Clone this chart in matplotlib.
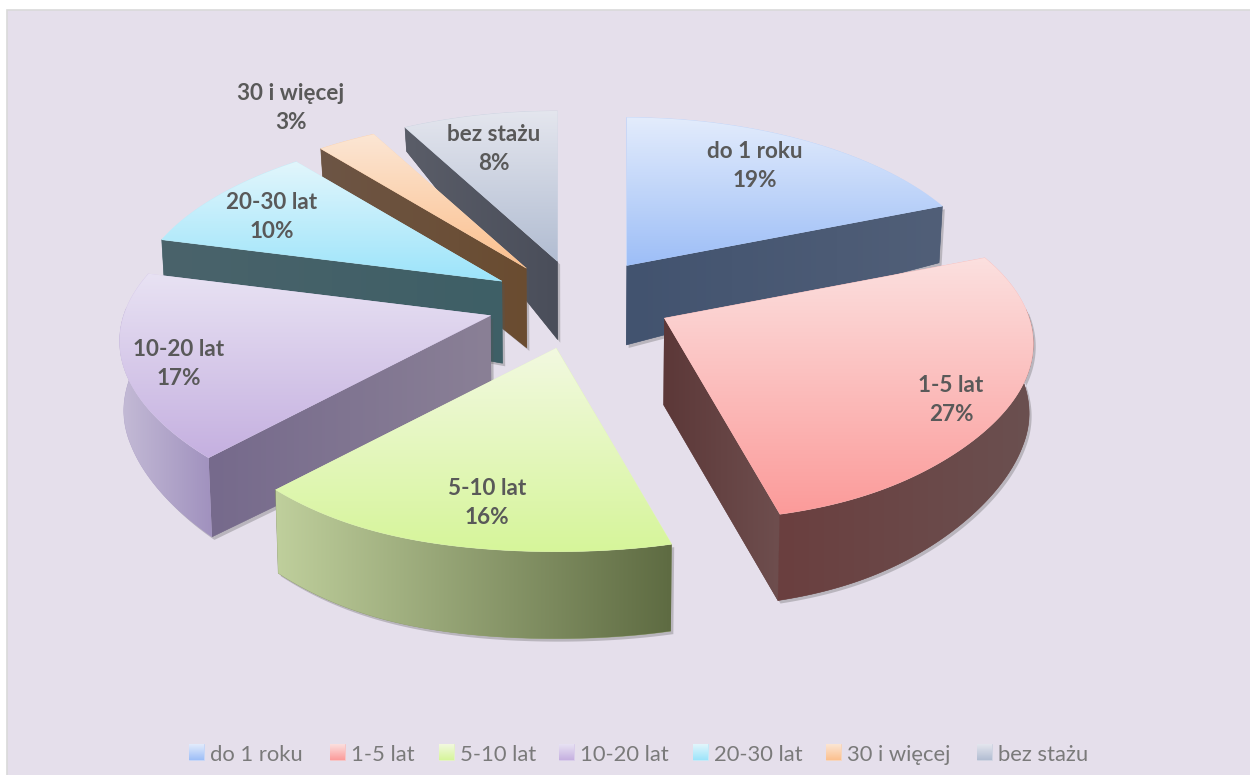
import numpy as np
import matplotlib
matplotlib.use("Agg")
import matplotlib.pyplot as plt
from matplotlib.colors import to_rgb
from matplotlib.path import Path
from matplotlib.patches import PathPatch, Rectangle

categories = ["do 1 roku", "1-5 lat", "5-10 lat", "10-20 lat", "20-30 lat", "30 i więcej", "bez stażu"]
values = [19, 27, 16, 17, 10, 3, 8]

# styling: (top of top-face, bottom of top-face), (wall left, wall right), (outer left, outer right)
TOP_COLORS = [("#E3ECFC", "#9DBEF7"), ("#FCE0DF", "#FB9B9A"), ("#F2F9E0", "#D6F59A"),
              ("#E8E2F3", "#C5B0E0"), ("#E2F6FC", "#9CE4FA"), ("#FCE6D4", "#FBC08E"), ("#E4E6EE", "#B2BDD2")]
WALL_COLORS = [("#42536F", "#515F78"), ("#5C3838", "#6E4E4E"), ("#BCCD93", "#5D6B42"),
               ("#766A8C", "#8A8096"), ("#4A636B", "#3E5F66"), ("#6D5545", "#6A4C30"), ("#5A5D68", "#4A4E5A")]
OUTER_COLORS = [("#4B5C76", "#4B5C76"), ("#6B3F3F", "#6A5050"), ("#BFCF9C", "#5E6B42"),
                ("#C4BBD6", "#A091BE"), ("#3E636A", "#3E636A"), ("#7A5234", "#7A5234"), ("#4E5362", "#4E5362")]
LABEL_XY = [(755, 166), (951, 400), (487, 503), (179, 364), (272, 217), (291, 108), (494, 149)]
LEGEND_X = [189, 330, 439, 559, 693, 826, 977]
DRAW_ORDER = [6, 5, 4, 0, 3, 1, 2]
CX, CY, EA, EB = 577, 303, 90, 44.5
SLICE_SHIFT = [(-1, -0.5), (7, -5), (1.5, 2), (0, 0), (1, 2), (0, 2), (3, 1.5)]
SLICE_SCALE = [0.985, 1.0, 1.0, 1.005, 1.0, 1.0, 1.0]

fig = plt.figure(figsize=(12.5, 7.75), dpi=100, facecolor="white")
ax = fig.add_axes([0, 0, 1, 1])
ax.set_xlim(0, 1250)
ax.set_ylim(775, 0)
ax.axis("off")
ax.set_autoscale_on(False)
ax.add_patch(Rectangle((7, 10), 1250, 770, facecolor="#E5DFEB", edgecolor="#D9D9D9", lw=1.2, zorder=0))

z = [1]


def gradient_fill(poly, c0, c1, vertical=True):
    poly = np.asarray(poly)
    x0, y0 = poly.min(axis=0)
    x1, y1 = poly.max(axis=0)
    a, b = np.array(to_rgb(c0)), np.array(to_rgb(c1))
    t = np.linspace(0, 1, 128)[:, None]
    col = a * (1 - t) + b * t
    img = col[:, None, :] if vertical else col[None, :, :]
    z[0] += 1
    ax.add_patch(PathPatch(Path(poly, closed=False), facecolor=(a + b) / 2, edgecolor=(a + b) / 2,
                           lw=0.4, zorder=z[0]))
    z[0] += 1
    im = ax.imshow(img, extent=(x0, max(x1, x0 + 1), max(y1, y0 + 1), y0), origin="upper",
                   aspect="auto", interpolation="bilinear", zorder=z[0])
    im.set_clip_path(Path(poly), ax.transData)


def shadow(poly):
    z[0] += 1
    ax.add_patch(PathPatch(Path(np.asarray(poly) + np.array([2.5, 3.0])), facecolor="#555555",
                           edgecolor="none", alpha=0.3, zorder=z[0]))


def apex_of(bis, i):
    return np.array([CX + EA * np.sin(bis) + SLICE_SHIFT[i][0], CY - EB * np.cos(bis) + SLICE_SHIFT[i][1]])


def rim(theta, bis, i):
    a = apex_of(bis, i)
    X, Y = np.sin(theta), np.cos(theta)
    f = 365 - 55 * Y + 60 * np.minimum(Y, 0) ** 8
    g = 173 * Y / (1 + 0.15 * Y)
    return np.column_stack([a[0] + SLICE_SCALE[i] * f * X, a[1] - SLICE_SCALE[i] * g])


def lower(pts):
    pts = np.atleast_2d(pts)
    t = np.clip((340 - pts[:, 1]) / 212, 0, 1)
    d = 87 - 63 * t ** 2
    d = d * (1 - 0.2 * np.clip(np.abs(pts[:, 0] - CX) / 450, 0, 1) ** 4)
    return np.column_stack([pts[:, 0] - 0.009 * (pts[:, 0] - CX), pts[:, 1] + d])


total = sum(values)
edges = np.concatenate([[0], np.cumsum(values)]) / total * 2 * np.pi

for i in DRAW_ORDER:
    t0, t1 = edges[i], edges[i + 1]
    bis = (t0 + t1) / 2
    apex = apex_of(bis, i)[None, :]
    th = np.linspace(t0, t1, 120)
    arc = rim(th, bis, i)
    mid = rim(np.array([bis]), bis, i)[0] - apex[0]
    walls = []
    for end in (arc[0], arc[-1]):
        dx, dy = end - apex[0]
        if abs(dx) > 5:
            edge_y = dy / dx * mid[0]
            if mid[1] < edge_y:
                quad = np.vstack([apex, [end], lower(end), lower(apex)])
                walls.append(("radial", quad))
    vis = np.cos(th) < 0.05
    if vis.sum() > 1:
        seg = arc[vis]
        walls.append(("outer", np.vstack([seg, lower(seg)[::-1]])))
    for _, poly in walls:
        shadow(poly)
    for kind, poly in walls:
        c = WALL_COLORS[i] if kind == "radial" else OUTER_COLORS[i]
        gradient_fill(poly, c[0], c[1], vertical=False)
    top = np.vstack([apex, arc])
    gradient_fill(top, TOP_COLORS[i][0], TOP_COLORS[i][1])

label_font = ["Lato", "DejaVu Sans"]
for name, v, (x, y) in zip(categories, values, LABEL_XY):
    ax.text(x, y, f"{name}\n{round(v / total * 100)}%", ha="center", va="center", family=label_font,
            fontweight="bold", fontsize=16.2, color="#595959", linespacing=1.42, zorder=900)

for name, x, c in zip(categories, LEGEND_X, TOP_COLORS):
    sq = [(x, 744), (x + 14.5, 744), (x + 14.5, 760), (x, 760), (x, 744)]
    gradient_fill(sq, c[0], c[1])
    ax.text(x + 21, 755, name, ha="left", va="center", family=label_font,
            fontsize=15.8, color="#7A7A7A", zorder=900)

fig.savefig("out.png", dpi=100, facecolor="white")
